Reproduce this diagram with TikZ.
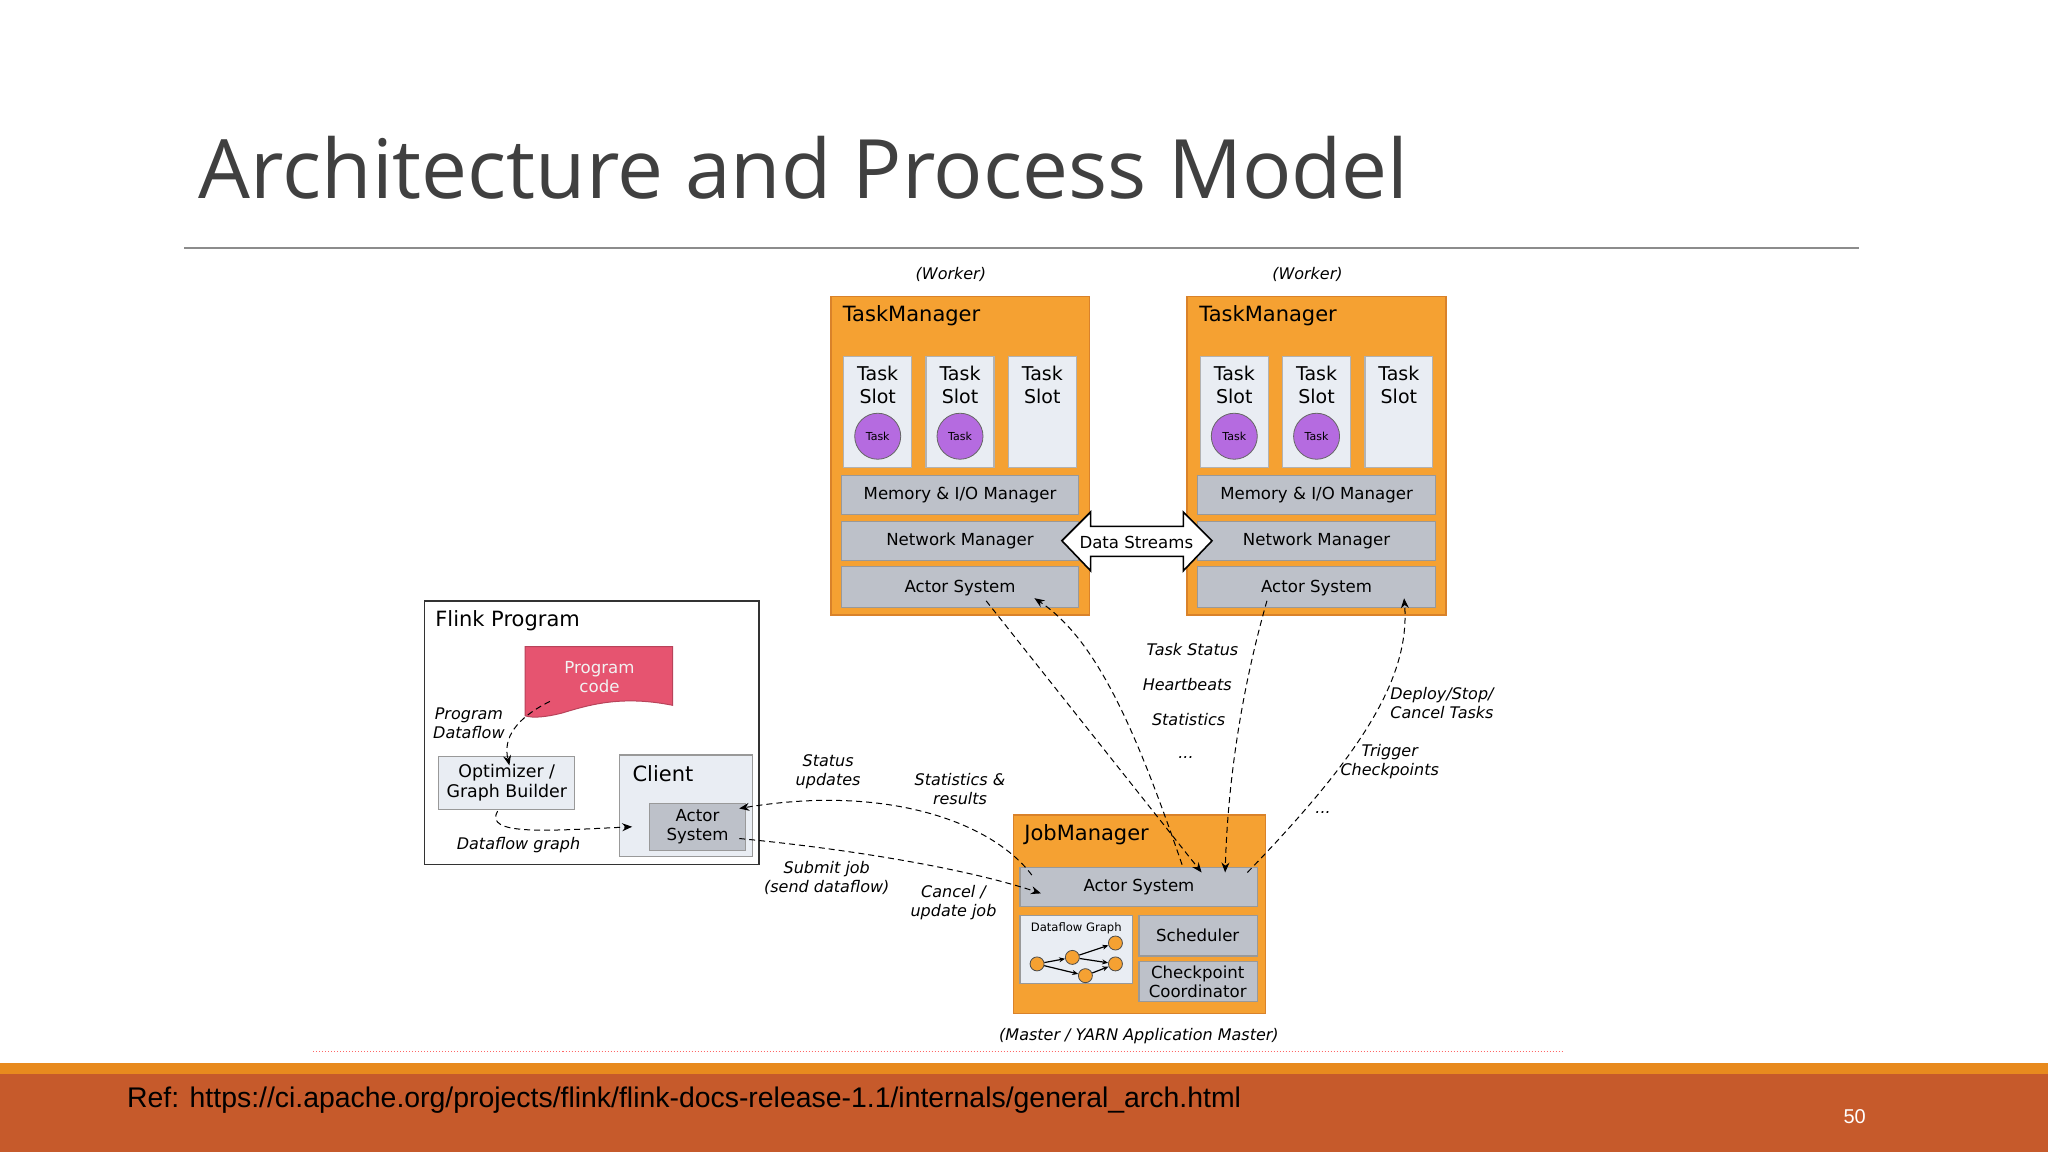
\documentclass[tikz,border=0pt]{standalone}
\usepackage{fontspec}
\setmainfont{DejaVu Sans}
\newfontfamily\titlefont{Open Sans}
\newfontfamily\reffont{Liberation Sans}
\usetikzlibrary{arrows.meta, shapes.arrows, calc, positioning}
\definecolor{tmorange}{HTML}{F5A132}
\definecolor{tmborder}{HTML}{D9822A}
\definecolor{slotfill}{HTML}{E9EDF3}
\definecolor{barfill}{HTML}{BDC1C9}
\definecolor{taskpurple}{HTML}{B56BE0}
\definecolor{progred}{HTML}{E65470}
\definecolor{barrust}{HTML}{C65A2B}
\definecolor{barlight}{HTML}{E88A1E}

\begin{document}
\begin{tikzpicture}[x=0.653pt,y=-0.653pt]
	\tikzstyle{manager}=[draw=tmborder, fill=tmorange, line width=0.8pt]
	\tikzstyle{slot}=[draw=black!30, fill=slotfill, line width=0.6pt]
	\tikzstyle{bar}=[draw=black!40, fill=barfill, line width=0.6pt]
	\tikzstyle{lightbox}=[draw=black!40, fill=slotfill, line width=0.6pt]
	\tikzstyle{task}=[circle, draw=black!60, fill=taskpurple, minimum size=23pt, inner sep=0pt, font=\fontsize{5.5}{6}\selectfont]
	\tikzstyle{txt}=[font=\fontsize{8.3}{9.5}\selectfont, align=center, inner sep=0pt]
	\tikzstyle{head}=[font=\fontsize{10.5}{12}\selectfont, anchor=west, inner sep=0pt]
	\tikzstyle{lab}=[font=\fontsize{8}{9.5}\itshape\selectfont, align=center, inner sep=0pt]
	\tikzstyle{connect}=[-{Stealth[length=5pt,width=4pt]}, densely dashed, line width=0.5pt]
	\tikzstyle{dot}=[circle, draw=black!70, fill=tmorange, minimum size=7pt, inner sep=0pt]
	\useasboundingbox (0,0) rectangle (1568,882);
	\fill[white] (0,0) rectangle (1568,882);
	% title
	\node[anchor=base west, inner sep=0pt, text=black!75, font=\titlefont\fontsize{41}{48}\selectfont] (title) at (152,152) {Architecture and Process Model};
	\draw[black!45, line width=0.7pt] (141,190) -- (1423,190);
	% footer
	\draw[red!60, densely dotted, line width=0.5pt] (240,805) -- (1197,805);
	\fill[barlight] (0,814) rectangle (1568,822);
	\fill[barrust] (0,822) rectangle (1568,882);
	\node[anchor=base west, inner sep=0pt, font=\reffont\fontsize{14.2}{16}\selectfont] (ref) at (97,848) {Ref: https://ci.apache.org/projects/flink/flink-docs-release-1.1/internals/general\_arch.html};
	\node[text=white, font=\reffont\fontsize{10}{12}\selectfont] (page) at (1420,855) {50};
	% task managers
	\foreach \i/\dx in {1/0, 2/273} {
		\draw[manager] (636+\dx,227) rectangle (834+\dx,471);
		\node[head] (tm\i) at (645+\dx,242) {TaskManager};
		\node[lab] (worker\i) at (728+\dx,210) {(Worker)};
		\foreach \s/\sx in {a/646, b/709, c/772} {
			\draw[slot] (\sx+\dx,273) rectangle (\sx+52+\dx,358);
			\node[txt, font=\fontsize{9.5}{11.5}\selectfont] (slot\i\s) at (\sx+26+\dx,295) {Task\\Slot};
		}
		\node[task] (task\i a) at (672+\dx,334) {Task};
		\node[task] (task\i b) at (735+\dx,334) {Task};
		\draw[bar] (644+\dx,364) rectangle (826+\dx,394);
		\node[txt] (mem\i) at (735+\dx,379) {Memory \& I/O Manager};
		\draw[bar] (644+\dx,399) rectangle (826+\dx,429);
		\node[txt] (net\i) at (735+\dx,414) {Network Manager};
		\draw[bar] (644+\dx,434) rectangle (826+\dx,465);
		\node[txt] (act\i) at (735+\dx,450) {Actor System};
	}
	% data streams
	\draw[fill=white, line width=0.8pt] (813,414) -- (835,392) -- (835,403) -- (906,403) -- (906,392) -- (928,414)
		-- (906,437) -- (906,426) -- (835,426) -- (835,437) -- cycle;
	\node[txt] (streams) at (870,415) {Data Streams};
	% flink program
	\draw[black!80, fill=white, line width=0.8pt] (325,460) rectangle (581,662);
	\node[head] (flink) at (333,475) {Flink Program};
	\fill[progred, draw=progred!80!black, line width=0.5pt] (402,495) -- (515,495) -- (515,540)
		.. controls (475,532) and (450,540) .. (430,546) .. controls (418,549) and (408,550) .. (402,548) -- cycle;
	\node[txt, text=white!95!black] (code) at (459,518) {Program\\code};
	\draw[lightbox] (336,579) rectangle (440,620);
	\node[txt, font=\fontsize{8.7}{10}\selectfont] (optim) at (388,599) {Optimizer /\\Graph Builder};
	\draw[lightbox] (474,578) rectangle (576,656);
	\node[head] (client) at (484,592) {Client};
	\draw[bar] (497,615) rectangle (571,651);
	\node[txt] (cact) at (534,633) {Actor\\System};
	\node[lab] (pdf) at (359,554) {Program\\Dataflow};
	\node[lab] (dfg) at (397,647) {Dataflow graph};
	\coordinate (c1) at (421,537);
	\coordinate (c2) at (390,586);
	\coordinate (c3) at (381,621);
	\coordinate (c4) at (484,633);
	\draw[connect] (c1) .. controls (395,550) and (385,565) .. (c2);
	\draw[connect] (c3) .. controls (370,640) and (420,636) .. (c4);
	% job manager
	\draw[manager] (776,624) rectangle (969,776);
	\node[head] (jm) at (784,639) {JobManager};
	\draw[bar] (781,664) rectangle (963,694);
	\node[txt] (jact) at (872,679) {Actor System};
	\draw[lightbox] (781,701) rectangle (867,753);
	\node[txt, font=\fontsize{5.8}{7}\selectfont] (dflow) at (824,711) {Dataflow Graph};
	\draw[bar] (872,701) rectangle (963,732);
	\node[txt] (sched) at (917,716) {Scheduler};
	\draw[bar] (872,736) rectangle (963,767);
	\node[txt] (ckpt) at (917,752) {Checkpoint\\Coordinator};
	\node[lab] (master) at (872,793) {(Master / YARN Application Master)};
	% mini dataflow graph
	\node[dot] (d1) at (794,738) {};
	\node[dot] (d2) at (821,733) {};
	\node[dot] (d3) at (831,747) {};
	\node[dot] (d4) at (854,722) {};
	\node[dot] (d5) at (854,738) {};
	\foreach \a/\b in {d1/d2, d1/d3, d2/d4, d2/d5, d3/d5}
		\draw[-{Stealth[length=3pt,width=2.5pt]}, line width=0.6pt] (\a) -- (\b);
	% client <-> job manager
	\coordinate (s1) at (790,670);
	\coordinate (s2) at (566,619);
	\coordinate (u1) at (566,642);
	\coordinate (u2) at (797,684);
	\draw[connect] (s1) .. controls (760,630) and (680,600) .. (s2);
	\draw[connect] (u1) .. controls (650,650) and (740,665) .. (u2);
	\node[lab] (status) at (634,591) {Status\\updates};
	\node[lab] (stats) at (735,604) {Statistics \&\\results};
	\node[lab] (submit) at (633,672) {Submit job\\(send dataflow)};
	\node[lab] (cancel) at (730,691) {Cancel /\\update job};
	% task managers <-> job manager
	\coordinate (t1) at (755,460);
	\coordinate (t2) at (920,668);
	\coordinate (t3) at (905,662);
	\coordinate (t4) at (792,458);
	\coordinate (t5) at (970,460);
	\coordinate (t6) at (938,668);
	\coordinate (t7) at (955,668);
	\coordinate (t8) at (1075,458);
	\draw[connect] (t1) -- (t2);
	\draw[connect] (t3) .. controls (870,560) and (840,490) .. (t4);
	\draw[connect] (t5) .. controls (950,530) and (940,600) .. (t6);
	\draw[connect] (t7) .. controls (1040,580) and (1080,520) .. (t8);
	\node[lab] (tstatus) at (913,497) {Task Status};
	\node[lab] (hbeat) at (909,524) {Heartbeats};
	\node[lab] (tstats) at (910,551) {Statistics};
	\node[lab] (etc1) at (908,580) {...};
	\node[lab] (deploy) at (1104,538) {Deploy/Stop/\\Cancel Tasks};
	\node[lab] (trigger) at (1064,583) {Trigger\\Checkpoints};
	\node[lab] (etc2) at (1013,622) {...};
\end{tikzpicture}
\end{document}
